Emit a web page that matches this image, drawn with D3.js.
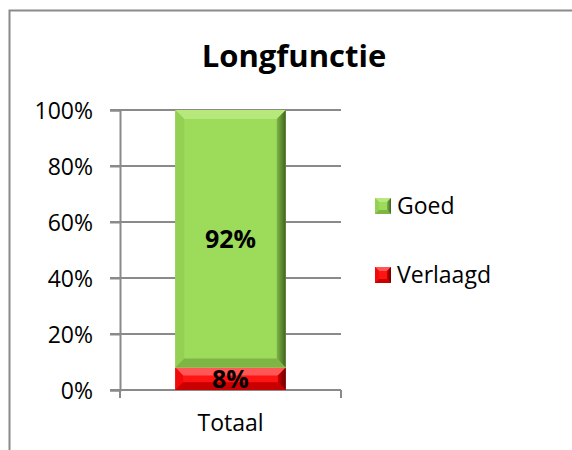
<!doctype html>
<html lang="nl">
<head>
<meta charset="UTF-8">
<title>Longfunctie</title>
<style>
  body { margin: 0; background: #fff; }
  text { font-family: "Open Sans", "Noto Sans", sans-serif; fill: #000; }
</style>
</head>
<body>
<svg id="chart" width="572" height="450"></svg>
<script src="https://d3js.org/d3.v7.min.js"></script>
<script>
    // data
    const categories = ["Totaal"];
    const seriesNames = ["Verlaagd", "Goed"];
    const verlaagd = [0.08];
    const goed = [0.92];
    const yTicks = [0, 0.2, 0.4, 0.6, 0.8, 1];
    const legendOrder = ["Goed", "Verlaagd"];

    const palette = {
        Goed:     {face: "#9ddb5b", top: "#b6e87c", left: "#93d053", bottom: "#7fb545", right: "#3f6322"},
        Verlaagd: {face: "#ff1414", top: "#ff5656", left: "#f00a0a", bottom: "#c80000", right: "#6a0000"}
    };

    let rows = categories.map((c, i) => ({cat: c, Verlaagd: verlaagd[i], Goed: goed[i]}));
    let series = d3.stack().keys(seriesNames)(rows);

    let svg = d3.select("#chart"),
        margin = {top: 110, right: 231, bottom: 60, left: 120},
        width = +svg.attr("width"),
        height = +svg.attr("height");

    // chart border
    svg.append("rect")
        .attr("x", 9.5).attr("y", 10.5)
        .attr("width", 600).attr("height", 500)
        .attr("fill", "none")
        .attr("stroke", "#8a8a8a")
        .attr("stroke-width", 2);

    svg.append("text")
        .attr("x", 294).attr("y", 67)
        .attr("text-anchor", "middle")
        .attr("font-size", "31px")
        .attr("font-weight", "bold")
        .text("Longfunctie");

    let x = d3.scaleBand()
        .domain(categories)
        .range([margin.left, width - margin.right])
        .paddingInner(0)
        .paddingOuter(0.5);

    let y = d3.scaleLinear()
        .domain([0, 1])
        .range([height - margin.bottom, margin.top]);

    // gridlines
    svg.append("g")
        .selectAll("line")
        .data(yTicks)
        .enter().append("line")
        .attr("x1", margin.left - 10)
        .attr("x2", width - margin.right)
        .attr("y1", d => y(d))
        .attr("y2", d => y(d))
        .attr("stroke", "#8a8a8a")
        .attr("stroke-width", 2);

    // y axis
    let yAxis = svg.append("g")
        .attr("transform", "translate(" + margin.left + ",0)")
        .call(d3.axisLeft(y).tickValues(yTicks).tickFormat(d3.format(".0%")).tickSize(10).tickPadding(17));
    yAxis.selectAll("path, line").attr("stroke", "#8a8a8a").attr("stroke-width", 2);
    yAxis.selectAll("text").attr("font-size", "23px").attr("font-family", null).attr("dy", "0.36em");

    // x axis
    let xAxis = svg.append("g")
        .attr("transform", "translate(0," + y(0) + ")")
        .call(d3.axisBottom(x).tickSize(0).tickPadding(25));
    xAxis.select("path").remove();
    xAxis.selectAll("text").attr("font-size", "23px").attr("font-family", null);
    svg.append("g")
        .selectAll("line")
        .data(x.range())
        .enter().append("line")
        .attr("x1", d => d).attr("x2", d => d)
        .attr("y1", y(0)).attr("y2", y(0) + 8)
        .attr("stroke", "#8a8a8a").attr("stroke-width", 2);
    svg.append("line")
        .attr("x1", x.range()[0]).attr("x2", x.range()[1])
        .attr("y1", y(0)).attr("y2", y(0))
        .attr("stroke", "#8a8a8a").attr("stroke-width", 2);

    // bevelled box
    function bevel(g, x0, y0, w, h, col, b) {
        let x1 = x0 + w, y1 = y0 + h;
        let pts = (a) => a.map(p => p.join(",")).join(" ");
        g.append("rect").attr("x", x0).attr("y", y0).attr("width", w).attr("height", h).attr("fill", col.face);
        g.append("polygon").attr("points", pts([[x0, y0], [x1, y0], [x1 - b, y0 + b], [x0 + b, y0 + b]])).attr("fill", col.top);
        g.append("polygon").attr("points", pts([[x0, y0], [x0 + b, y0 + b], [x0 + b, y1 - b], [x0, y1]])).attr("fill", col.left);
        g.append("polygon").attr("points", pts([[x0, y1], [x0 + b, y1 - b], [x1 - b, y1 - b], [x1, y1]])).attr("fill", col.bottom);
        g.append("polygon").attr("points", pts([[x1, y0], [x1, y1], [x1 - b, y1 - b], [x1 - b, y0 + b]])).attr("fill", "url(#grad-" + col.id + ")");
    }

    let defs = svg.append("defs");
    Object.keys(palette).forEach(k => {
        palette[k].id = k;
        let gr = defs.append("linearGradient").attr("id", "grad-" + k)
            .attr("x1", "0").attr("x2", "1").attr("y1", "0").attr("y2", "0");
        gr.append("stop").attr("offset", "0").attr("stop-color", palette[k].bottom);
        gr.append("stop").attr("offset", "1").attr("stop-color", palette[k].right);
    });

    let bars = svg.append("g");
    series.forEach(s => {
        s.forEach(d => {
            let x0 = x(d.data.cat), w = x.bandwidth();
            let top = y(d[1]), h = y(d[0]) - y(d[1]);
            bevel(bars.append("g"), x0, top, w, h, palette[s.key], Math.min(9, h * 0.35));
            bars.append("text")
                .attr("x", x0 + w / 2)
                .attr("y", top + h / 2)
                .attr("dy", "0.36em")
                .attr("text-anchor", "middle")
                .attr("font-size", "25px")
                .attr("font-weight", "bold")
                .text(d3.format(".0%")(d[1] - d[0]));
        });
    });

    // legend
    let legend = svg.append("g");
    legendOrder.forEach((k, i) => {
        let ly = 198 + i * 69;
        bevel(legend.append("g"), 375, ly, 16, 16, palette[k], 4);
        legend.append("text")
            .attr("x", 397).attr("y", ly + 8)
            .attr("dy", "0.36em")
            .attr("font-size", "23px")
            .text(k);
    });
</script>
</body>
</html>
